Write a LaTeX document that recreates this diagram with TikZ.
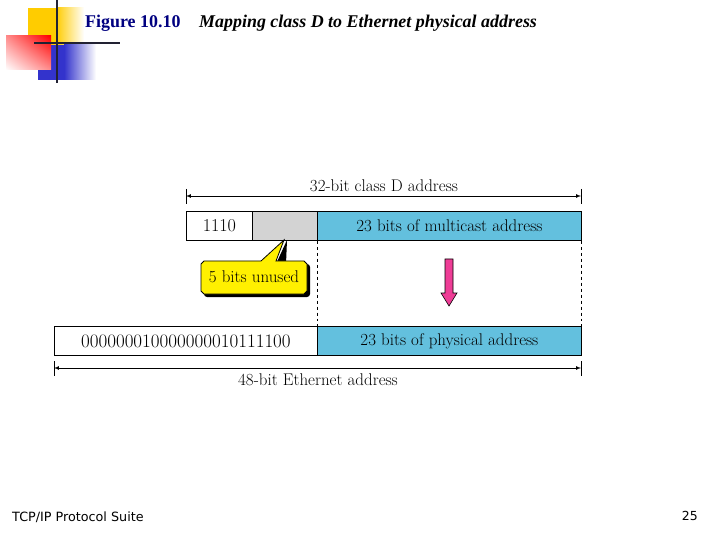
\documentclass[tikz,border=0pt]{standalone}
\usepackage{fontspec}
\newfontfamily\titlefont{Liberation Serif}
\newfontfamily\footfont{DejaVu Sans}
\usetikzlibrary{calc}
\usetikzlibrary{arrows}
\usetikzlibrary{shadings}
\definecolor{fieldblue}{RGB}{99,192,222}
\definecolor{fieldgray}{RGB}{211,211,211}
\definecolor{notepink}{RGB}{238,61,150}
\definecolor{noteyellow}{RGB}{255,240,0}
\definecolor{logoyellow}{RGB}{255,204,0}
\definecolor{logoblue}{RGB}{51,51,204}
\definecolor{logoline}{RGB}{34,34,51}
\definecolor{titleblue}{RGB}{0,0,128}
\tikzset{
	field/.style={draw=black, line width=0.8pt, inner sep=0pt, anchor=north west, minimum height=29bp, font=\fontsize{17}{18}\selectfont},
	plainlab/.style={inner sep=0pt, font=\fontsize{17}{18}\selectfont},
	dimline/.style={<->, >=latex, line width=0.7pt},
	tickline/.style={line width=0.8pt},
	guide/.style={dashed, line width=0.8pt}
}
\begin{document}
\begin{tikzpicture}[x=1bp, y=-1bp]
			\useasboundingbox (0,0) rectangle (720,540);
			%\draw[step=20bp,gray,very thin] (0,0) grid (720,540);
			\fill[logoyellow] (28,8) rectangle (56,50);
			\shade[left color=logoyellow, right color=white] (56,8) rectangle (84,50);
			\fill[logoblue] (38,45) rectangle (64,80);
			\shade[left color=logoblue, right color=white] (64,45) rectangle (96,80);
			\shade[lower left=white, upper right=red, lower right=red!45, upper left=red!45] (6,36) rectangle (51,70);
			\draw[logoline, line width=3pt] (57,0) -- (57,83);
			\draw[logoline, line width=3pt] (34,43) -- (120,43);
			\node (figno) [anchor=west, inner sep=0pt, text=titleblue, font=\titlefont\bfseries\fontsize{18}{20}\selectfont] at (85,23) {Figure 10.10};
			\node (figname) [anchor=west, inner sep=0pt, font=\titlefont\bfseries\itshape\fontsize{18}{20}\selectfont] at (199,23) {Mapping class D to Ethernet physical address};
			\node (classd) [field, fill=white, minimum width=66bp, font=\fontsize{18.2}{19}\selectfont] at (186,211) {1110};
			\node (unused) [field, fill=fieldgray, minimum width=65bp] at (252,211) {};
			\node (multi) [field, fill=fieldblue, minimum width=264bp] at (317,211) {23 bits of multicast address};
			\node (prefix) [field, fill=white, minimum width=263bp, font=\fontsize{19.1}{20}\selectfont] at (54,326) {000000010000000010111100};
			\node (phys) [field, fill=fieldblue, minimum width=264bp] at (317,326) {23 bits of physical address};
			\draw[guide] (multi.south west) -- (phys.north west);
			\draw[guide] (multi.south east) -- (phys.north east);
			\coordinate (topl) at (186,196);
			\coordinate (topr) at (581,196);
			\coordinate (botl) at (54,368);
			\coordinate (botr) at (581,368);
			\draw[dimline] (topl) -- (topr);
			\draw[dimline] (botl) -- (botr);
			\draw[tickline] ($(topl)+(0,-7)$) -- ($(topl)+(0,8)$);
			\draw[tickline] ($(topr)+(0,-7)$) -- ($(topr)+(0,8)$);
			\draw[tickline] ($(botl)+(0,-7)$) -- ($(botl)+(0,8)$);
			\draw[tickline] ($(botr)+(0,-7)$) -- ($(botr)+(0,8)$);
			\node (toplabel) [plainlab] at (384,186) {32-bit class D address};
			\node (botlabel) [plainlab] at (318,380) {48-bit Ethernet address};
			\fill[black, rounded corners=3bp] (204,264) rectangle (310,297);
			\fill[black] (276,264) -- (287,240) -- (286,264) -- cycle;
			\draw[fill=noteyellow, line width=0.8pt] (204,261) -- (261,261) -- (284,240) -- (276,261) -- (304,261) -- (307,264) -- (307,291) -- (304,294) -- (204,294) -- (201,291) -- (201,264) -- cycle;
			\node (note) [plainlab] at (254,277) {5 bits unused};
			\draw[fill=notepink, line width=0.6pt] (445,259) -- (453,259) -- (453,293) -- (457,293) -- (449,306) -- (441,293) -- (445,293) -- cycle;
			\node (suite) [anchor=west, inner sep=0pt, font=\footfont\fontsize{12.8}{14}\selectfont] at (12,517) {TCP/IP Protocol Suite};
			\node (page) [anchor=east, inner sep=0pt, font=\footfont\fontsize{12.5}{14}\selectfont] at (698,516) {25};
		\end{tikzpicture}
\end{document}
